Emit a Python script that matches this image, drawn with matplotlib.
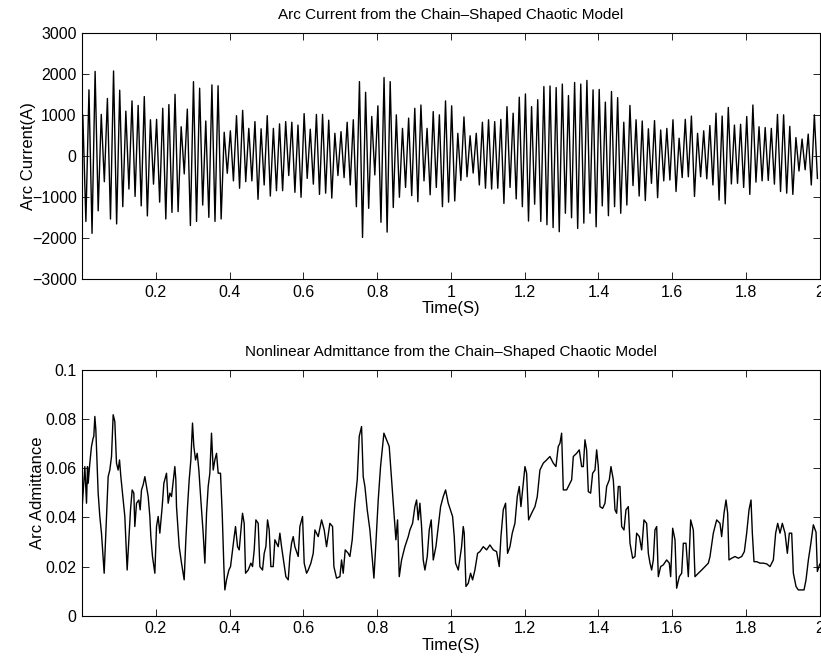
import numpy as np
import matplotlib
matplotlib.use("Agg")
import matplotlib.pyplot as plt

# arc current: positive peaks and negative troughs of each 60 Hz cycle (A)
current_peaks = [
    1000, 1620, 2070, 1020, 1410, 2080, 1610, 1100, 1350, 1240,
    1455, 890, 900, 1170, 1260, 1510, 720, 1150, 1820, 1660,
    860, 1740, 1720, 585, 620, 990, 1120, 680, 845, 670,
    990, 680, 790, 845, 830, 760, 1040, 660, 1020, 1020,
    880, 560, 600, 830, 890, 1820, 1560, 970, 1230, 1920,
    1820, 1010, 680, 930, 1170, 1250, 680, 1090, 1010, 1350,
    1230, 560, 960, 500, 560, 830, 890, 845, 900, 1210,
    1050, 1440, 1520, 1210, 1380, 1700, 1715, 1675,
    1760, 1480, 1800, 1760, 1850, 1620, 1630, 1320, 1580, 1430,
    830, 1240, 890, 860, 670, 870, 640, 680, 890, 440,
    900, 980, 560, 620, 750, 1050, 980, 1190, 760, 780,
    970, 1250, 720, 700, 680, 1020, 1010, 730, 455, 420,
    540, 1010,
]
current_troughs = [
    -1590, -1880, -1330, -620, -1530, -1650, -1230, -800, -980, -1210,
    -1455, -680, -1120, -1530, -1370, -1350, -430, -1690, -1590, -1190,
    -1490, -1590, -1530, -415, -600, -780, -620, -600, -1050, -700,
    -970, -840, -840, -470, -880, -1000, -540, -680, -930,
    -900, -1020, -470, -520, -700, -1230, -1980, -1270, -455, -1610,
    -1850, -1250, -1000, -760, -960, -1110, -600, -940, -760, -1230,
    -1120, -1090, -590, -500, -410, -700, -780, -800, -780, -1150,
    -760, -1040, -1230, -1580, -1170, -1590, -1670, -1740,
    -1840, -1390, -1500, -1760, -1630, -1390, -1720, -1210, -1450, -1230,
    -1390, -1190, -715, -970, -1080, -660, -1010, -600, -580, -860,
    -520, -500, -980, -500, -550, -700, -1070, -1160, -675, -660,
    -760, -930, -630, -600, -590, -680, -860, -900, -930, -360,
    -330, -700, -540,
]

# arc admittance (time in s, value)
adm_t = [
    0.000, 0.0075, 0.012, 0.0147, 0.0165, 0.021, 0.0255, 0.030, 0.0318, 0.0346,
    0.0373, 0.0436, 0.0481, 0.0526, 0.0599, 0.0662, 0.0707, 0.0752, 0.0798, 0.0843,
    0.0888, 0.0933, 0.0978, 0.1015, 0.1051, 0.1096, 0.1159, 0.1222, 0.1268, 0.1313,
    0.1358, 0.1403, 0.143, 0.1476, 0.1539, 0.1575, 0.1611, 0.1656, 0.1702, 0.1747,
    0.1792, 0.1837, 0.1864, 0.1909, 0.1973, 0.2018, 0.2063, 0.2108, 0.2172, 0.2217,
    0.2289, 0.2334, 0.238, 0.2425, 0.2515, 0.2542, 0.256, 0.2633, 0.2696, 0.2768,
    0.2813, 0.2859, 0.2904, 0.2949, 0.2994, 0.303, 0.3076, 0.3121, 0.3166, 0.322,
    0.3283, 0.3329, 0.3374, 0.3419, 0.3464, 0.3509, 0.3555, 0.36, 0.3645, 0.369,
    0.3753, 0.3799, 0.3844, 0.3871, 0.3916, 0.398, 0.4025, 0.4079, 0.4124, 0.416,
    0.4215, 0.426, 0.4323, 0.435, 0.4395, 0.4432, 0.4504, 0.4576, 0.4621, 0.4667,
    0.4712, 0.4775, 0.482, 0.4892, 0.4938, 0.4983, 0.5028, 0.5073, 0.5118, 0.5182,
    0.5227, 0.5272, 0.5317, 0.5363, 0.5408, 0.5525, 0.5589, 0.5634, 0.5679, 0.5724,
    0.5769, 0.586, 0.5905, 0.5977, 0.6022, 0.6086, 0.6131, 0.6203, 0.6267, 0.6312,
    0.6402, 0.6493, 0.6565, 0.6628, 0.6718, 0.6791, 0.6827, 0.6899, 0.699, 0.7035,
    0.708, 0.7134, 0.7216, 0.7261, 0.7324, 0.7396, 0.746, 0.7514, 0.7577, 0.7622,
    0.7668, 0.7731, 0.7803, 0.7857, 0.7912, 0.7966, 0.8029, 0.8092, 0.8147, 0.8183,
    0.8255, 0.8327, 0.8391, 0.8454, 0.8508, 0.8553, 0.8599, 0.8662, 0.8752, 0.8843,
    0.8888, 0.896, 0.9023, 0.9069, 0.9114, 0.9159, 0.9204, 0.9249, 0.9295, 0.9358,
    0.9412, 0.9466, 0.9521, 0.9593, 0.9656, 0.972, 0.9792, 0.9855, 0.9927, 1.0045,
    1.009, 1.0126, 1.0199, 1.0289, 1.0334, 1.0361, 1.0407, 1.047, 1.0533, 1.0587,
    1.065, 1.0723, 1.0786, 1.0877, 1.0967, 1.1057, 1.1148, 1.1238, 1.131, 1.1356,
    1.1419, 1.1482, 1.1536, 1.16, 1.1663, 1.1735, 1.1799, 1.1853, 1.1898, 1.2007,
    1.2052, 1.2106, 1.2187, 1.2278, 1.2341, 1.2413, 1.2504, 1.2594, 1.2684, 1.2775,
    1.2847, 1.291, 1.2956, 1.3001, 1.3047, 1.3137, 1.3227, 1.3273, 1.3318, 1.3408,
    1.348, 1.3544, 1.3589, 1.3634, 1.3679, 1.3725, 1.3788, 1.3842, 1.3905, 1.3951,
    1.3996, 1.4041, 1.4113, 1.4177, 1.4222, 1.4294, 1.4339, 1.4403, 1.4448, 1.4493,
    1.4538, 1.4583, 1.4629, 1.4692, 1.4746, 1.4809, 1.4855, 1.4927, 1.499, 1.5035,
    1.5108, 1.5171, 1.5234, 1.5306, 1.5352, 1.5397, 1.5442, 1.5487, 1.5532, 1.5578,
    1.5623, 1.5686, 1.5758, 1.5849, 1.5921, 1.5957, 1.6012, 1.6075, 1.612, 1.6192,
    1.6256, 1.6301, 1.6373, 1.6436, 1.65, 1.6572, 1.6617, 1.6708, 1.6798, 1.6888,
    1.6979, 1.7024, 1.7114, 1.716, 1.7205, 1.7295, 1.734, 1.7404, 1.7458, 1.7503,
    1.7539, 1.7612, 1.7702, 1.7792, 1.7883, 1.7955, 1.8018, 1.8082, 1.8136, 1.8172,
    1.8217, 1.829, 1.838, 1.847, 1.8561, 1.8651, 1.8741, 1.8804, 1.8859, 1.8922,
    1.8985, 1.9058, 1.9121, 1.9175, 1.9239, 1.9284, 1.9356, 1.9419, 1.951, 1.9573,
    1.9627, 1.9691, 1.9754, 1.9826, 1.9899, 1.9935, 2.000,
]
adm_v = [
    0.0437, 0.0607, 0.0458, 0.0607, 0.0539, 0.0621, 0.0689, 0.0723, 0.0730, 0.0811,
    0.0757, 0.0499, 0.0404, 0.0336, 0.0173, 0.0404, 0.0566, 0.0593, 0.0648, 0.0818,
    0.0790, 0.0621, 0.0593, 0.0634, 0.0566, 0.0499, 0.0404, 0.0186, 0.0309, 0.0431,
    0.0512, 0.0499, 0.0363, 0.0458, 0.0471, 0.0431, 0.0512, 0.0533, 0.0566, 0.0526,
    0.0485, 0.0404, 0.0322, 0.0241, 0.0173, 0.0363, 0.0404, 0.0336, 0.0444, 0.0539,
    0.0580, 0.0458, 0.0499, 0.0485, 0.0607, 0.0553, 0.0444, 0.0281, 0.0214, 0.0146,
    0.0309, 0.0444, 0.0553, 0.0634, 0.0784, 0.0689, 0.0634, 0.0661, 0.0593, 0.0471,
    0.0336, 0.0214, 0.0417, 0.0526, 0.0580, 0.0743, 0.0593, 0.0634, 0.0661, 0.0580,
    0.0580, 0.0417, 0.0200, 0.0105, 0.0146, 0.0186, 0.0200, 0.0268, 0.0322, 0.0363,
    0.0281, 0.0268, 0.0376, 0.0417, 0.0376, 0.0173, 0.0186, 0.0214, 0.0200, 0.0268,
    0.0390, 0.0376, 0.0200, 0.0186, 0.0254, 0.0281, 0.0390, 0.0349, 0.0200, 0.0200,
    0.0309, 0.0295, 0.0281, 0.0336, 0.0281, 0.0159, 0.0146, 0.0241, 0.0295, 0.0322,
    0.0281, 0.0241, 0.0363, 0.0404, 0.0214, 0.0173, 0.0186, 0.0214, 0.0254, 0.0349,
    0.0322, 0.0390, 0.0349, 0.0281, 0.0376, 0.0363, 0.0200, 0.0153, 0.0159, 0.0227,
    0.0173, 0.0268, 0.0254, 0.0241, 0.0309, 0.0458, 0.0553, 0.0730, 0.0770, 0.0566,
    0.0526, 0.0431, 0.0349, 0.0254, 0.0153, 0.0295, 0.0471, 0.0607, 0.0689, 0.0743,
    0.0716, 0.0689, 0.0553, 0.0417, 0.0309, 0.0390, 0.0159, 0.0227, 0.0281, 0.0322,
    0.0349, 0.0376, 0.0444, 0.0471, 0.0390, 0.0458, 0.0363, 0.0227, 0.0186, 0.0241,
    0.0349, 0.0390, 0.0227, 0.0281, 0.0363, 0.0444, 0.0485, 0.0512, 0.0458, 0.0404,
    0.0322, 0.0214, 0.0186, 0.0281, 0.0363, 0.0336, 0.0119, 0.0132, 0.0173, 0.0146,
    0.0186, 0.0254, 0.0261, 0.0281, 0.0268, 0.0288, 0.0268, 0.0261, 0.0200, 0.0322,
    0.0431, 0.0458, 0.0254, 0.0281, 0.0336, 0.0376, 0.0485, 0.0526, 0.0444, 0.0607,
    0.0580, 0.0390, 0.0417, 0.0444, 0.0485, 0.0593, 0.0621, 0.0634, 0.0648, 0.0621,
    0.0607, 0.0689, 0.0702, 0.0743, 0.0512, 0.0512, 0.0539, 0.0553, 0.0648, 0.0661,
    0.0675, 0.0607, 0.0607, 0.0716, 0.0675, 0.0505, 0.0499, 0.0580, 0.0593, 0.0675,
    0.0607, 0.0444, 0.0437, 0.0458, 0.0526, 0.0553, 0.0607, 0.0553, 0.0431, 0.0417,
    0.0526, 0.0526, 0.0363, 0.0349, 0.0431, 0.0444, 0.0295, 0.0234, 0.0241, 0.0336,
    0.0322, 0.0268, 0.0390, 0.0376, 0.0254, 0.0214, 0.0186, 0.0227, 0.0349, 0.0363,
    0.0159, 0.0200, 0.0207, 0.0227, 0.0214, 0.0159, 0.0356, 0.0309, 0.0112, 0.0159,
    0.0173, 0.0295, 0.0295, 0.0159, 0.0390, 0.0349, 0.0159, 0.0173, 0.0186, 0.0200,
    0.0214, 0.0241, 0.0336, 0.0363, 0.0390, 0.0376, 0.0322, 0.0417, 0.0471, 0.0417,
    0.0227, 0.0234, 0.0241, 0.0234, 0.0241, 0.0261, 0.0336, 0.0431, 0.0471, 0.0336,
    0.0220, 0.0220, 0.0214, 0.0214, 0.0211, 0.0200, 0.0227, 0.0336, 0.0376, 0.0336,
    0.0376, 0.0336, 0.0254, 0.0336, 0.0336, 0.0173, 0.0119, 0.0105, 0.0105, 0.0105,
    0.0146, 0.0227, 0.0290, 0.0370, 0.0340, 0.0180, 0.0210,
]

x_ticks = [0.2, 0.4, 0.6, 0.8, 1.0, 1.2, 1.4, 1.6, 1.8, 2.0]
x_labels = ["0.2", "0.4", "0.6", "0.8", "1", "1.2", "1.4", "1.6", "1.8", "2"]
cur_ticks = [-3000, -2000, -1000, 0, 1000, 2000, 3000]
adm_ticks = [0, 0.02, 0.04, 0.06, 0.08, 0.1]
adm_labels = ["0", "0.02", "0.04", "0.06", "0.08", "0.1"]

# peaks and troughs alternate every half cycle
current = np.empty(len(current_peaks) + len(current_troughs))
current[0::2] = current_peaks
current[1::2] = current_troughs
t_cur = 0.002 + np.arange(len(current)) / 120.0

plt.rcParams["font.family"] = ["Liberation Sans", "DejaVu Sans"]
plt.rcParams["font.size"] = 11.5

fig = plt.figure(figsize=(8.21, 6.61), dpi=100)
ax1 = fig.add_axes([0.1002, 0.5775, 0.8983, 0.3722])
ax2 = fig.add_axes([0.1002, 0.0685, 0.8983, 0.3717])

ax1.plot(t_cur, current, color="black", lw=1.0)
ax1.set_ylim(-3000, 3000)
ax1.set_yticks(cur_ticks)
ax1.set_ylabel("Arc Current(A)", fontsize=12)
ax1.yaxis.set_label_coords(-0.0625, 0.5)
ax1.set_title("Arc Current from the Chain\u2013Shaped Chaotic Model", fontsize=11, pad=10)

ax2.plot(adm_t, adm_v, color="black", lw=1.0)
ax2.set_ylim(0, 0.1)
ax2.set_yticks(adm_ticks)
ax2.set_yticklabels(adm_labels)
ax2.set_ylabel("Arc Admittance", fontsize=12)
ax2.yaxis.set_label_coords(-0.0505, 0.5)
ax2.set_title("Nonlinear Admittance from the Chain\u2013Shaped Chaotic Model", fontsize=11, pad=10)

for ax in (ax1, ax2):
    ax.set_xlim(0.0005, 2.0)
    ax.set_xticks(x_ticks)
    ax.set_xticklabels(x_labels)
    ax.set_xlabel("Time(S)", fontsize=12, labelpad=1)
    ax.tick_params(direction="in", top=True, right=True, length=5, width=0.6, pad=4)
    for s in ax.spines.values():
        s.set_linewidth(0.8)

fig.savefig("out.png", dpi=100)
